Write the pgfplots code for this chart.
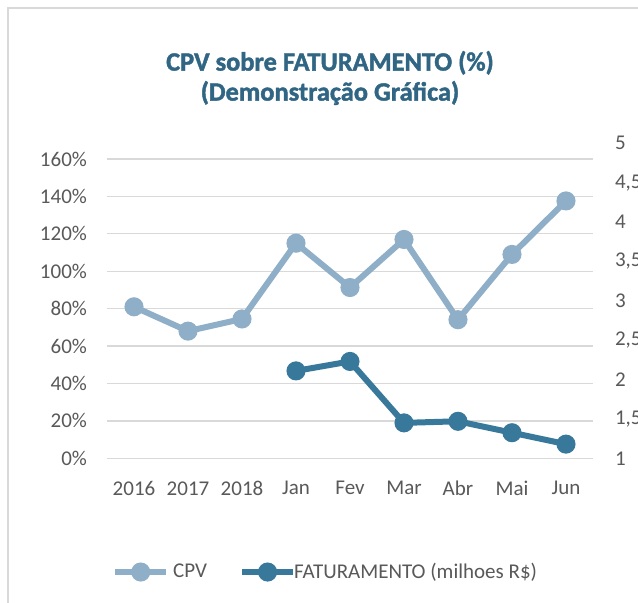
\documentclass[border=0pt]{standalone}
\usepackage{pgfplots}
\pgfplotsset{compat=1.18}
\usepackage{fontspec}
\setmainfont{Carlito}
\newfontfamily\titlefont[FakeBold=1.6]{Carlito Bold}
\definecolor{cpv}{RGB}{143,174,199}
\definecolor{fat}{RGB}{56,121,155}
\definecolor{ttl}{RGB}{48,102,132}
\definecolor{lbl}{RGB}{89,89,89}
\definecolor{grd}{RGB}{217,217,217}
\begin{document}
\begin{tikzpicture}
\clip (0pt,0pt) rectangle (319pt,-301pt);
\fill[white] (0pt,0pt) rectangle (319pt,-301pt);
\draw[grd, line width=0.7pt] (4pt,-330pt) -- (4pt,-4pt) -- (340pt,-4pt);
\node[font=\titlefont\fontsize{13.2}{15}\selectfont, text=ttl, align=center] at (165pt,-39pt) {CPV sobre FATURAMENTO (\%)\\(Demonstração Gráfica)};
\begin{axis}[
  at={(53.5pt,-229.15pt)}, anchor=south west, scale only axis,
  width=243pt, height=157.5pt,
  xmin=-0.5, xmax=8.5, ymin=0, ymax=168.4,
  xtick={0,...,8}, xticklabels={2016,2017,2018,Jan,Fev,Mar,Abr,Mai,Jun},
  ytick={0,20,...,160}, yticklabels={0\%,20\%,40\%,60\%,80\%,100\%,120\%,140\%,160\%},
  axis line style={draw=none}, major tick length=0pt, tick style={draw=none},
  ymajorgrids, grid style={grd, line width=0.65pt},
  tick label style={font=\fontsize{10.5}{12}\selectfont, text=lbl},
  yticklabel style={xshift=-6.5pt},
  xticklabel style={yshift=-8pt},
  legend style={at={(axis description cs:0.452,-0.361)}, anchor=center, draw=none, fill=none,
    font=\fontsize{10.5}{12}\selectfont, text=lbl, column sep=0pt},
  legend columns=2,
  /tikz/every even column/.append style={column sep=14pt},
  legend image code/.code={\draw[#1, mark repeat=2, mark phase=2] plot coordinates {(0pt,0pt) (12.75pt,0pt) (25.5pt,0pt)};},
  clip=false,
]
\addplot[cpv, line width=3pt, mark=*, mark size=3.25pt, mark options={solid}] coordinates {
 (0,81) (1,68) (2,74.5) (3,115) (4,91.3) (5,117) (6,74.1) (7,109) (8,137.6)};
\addlegendentry{CPV}
\addlegendimage{fat, line width=3pt, mark=*, mark size=3.25pt, mark options={solid}}
\addlegendentry{\hspace*{-3pt}FATURAMENTO (milhoes R\$)}
\end{axis}
\begin{axis}[
  at={(53.5pt,-229.15pt)}, anchor=south west, scale only axis,
  width=243pt, height=157.5pt,
  xmin=-0.5, xmax=8.5, ymin=1, ymax=5,
  axis x line=none, axis y line*=right,
  ytick={1,1.5,2,2.5,3,3.5,4,4.5,5}, yticklabels={1,{1,5},2,{2,5},3,{3,5},4,{4,5},5},
  axis line style={draw=none}, major tick length=0pt, tick style={draw=none},
  tick label style={font=\fontsize{10.5}{12}\selectfont, text=lbl},
  yticklabel style={anchor=west, xshift=7.5pt},
  clip=false,
]
\addplot[fat, line width=3pt, mark=*, mark size=3.25pt, mark options={solid}] coordinates {
 (3,2.11) (4,2.23) (5,1.45) (6,1.47) (7,1.325) (8,1.18)};
\end{axis}
\end{tikzpicture}
\end{document}
